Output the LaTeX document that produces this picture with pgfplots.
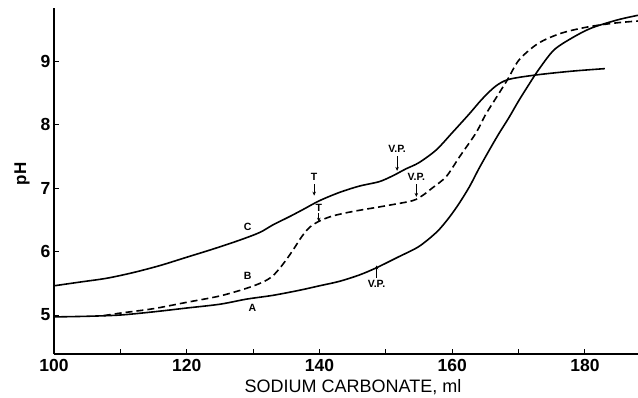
\documentclass[border=0pt]{standalone}
\usepackage{fontspec}
\setmainfont{Liberation Sans}
\usepackage{pgfplots}
\pgfplotsset{compat=1.18}
\usetikzlibrary{arrows.meta}

\pgfplotstableread{
x y
100 4.97
105 4.98
110 5.00
115 5.05
120 5.11
125 5.17
129 5.25
133 5.31
137 5.39
140 5.46
143 5.53
146 5.63
148.5 5.74
152 5.92
155 6.08
157.7 6.31
159.5 6.53
161 6.75
162.6 7.02
164 7.30
165.5 7.58
167 7.85
168.5 8.10
170 8.37
171.5 8.62
173 8.86
175.3 9.17
178 9.36
181 9.52
185 9.65
188 9.72
}\curveA

\pgfplotstableread{
x y
107.5 4.99
110 5.03
115 5.10
120 5.20
125 5.30
129 5.42
131.5 5.52
133 5.62
134.5 5.80
136 6.02
137.3 6.23
138.5 6.38
140 6.48
142 6.56
145 6.63
150 6.72
154 6.80
155.5 6.88
157 7.00
159.1 7.18
161.1 7.49
163.6 7.87
165 8.15
166.5 8.40
168.3 8.70
170.1 9.02
173 9.28
176.5 9.44
180.6 9.54
184.7 9.60
188 9.63
}\curveB

\pgfplotstableread{
x y
100 5.46
104 5.52
108 5.58
112 5.67
116 5.78
120 5.91
124 6.04
128 6.18
131 6.30
133 6.42
135.5 6.55
137.5 6.66
140 6.80
143 6.93
146 7.03
149 7.10
151 7.19
153 7.30
155 7.40
157.6 7.60
160 7.87
162.6 8.17
164.5 8.40
166.5 8.60
168.5 8.71
172.6 8.78
178 8.84
183 8.88
}\curveC

\begin{document}
\begin{tikzpicture}
\begin{axis}[
  scale only axis, width=584pt, height=346pt,
  xmin=100, xmax=188, ymin=4.386, ymax=9.835,
  axis x line=bottom, axis y line=left,
  axis line style={-, line width=1.3pt},
  xtick={100,120,...,180}, minor xtick={110,130,150,170},
  ytick={5,6,7,8,9},
  tick align=inside, major tick length=5pt, minor tick length=5pt,
  every tick/.style={line width=1pt, black},
  /pgf/number format/assume math mode=true,
  ticklabel style={font=\fontsize{17.5}{19}\selectfont\bfseries},
  xticklabel style={yshift=-2pt},
  xlabel={SODIUM CARBONATE, ml},
  ylabel={pH},
  every axis x label/.style={at={(axis description cs:0.5,0)}, anchor=base, yshift=-38pt, xshift=7pt, font=\fontsize{18}{20}\selectfont},
  every axis y label/.style={at={([xshift=-32pt,yshift=7pt]axis description cs:0,0.5)}, rotate=90, anchor=center, font=\fontsize{17}{19}\selectfont\bfseries},
  clip=false,
]
\addplot[black, line width=1.6pt, smooth] table[x=x,y=y] {\curveA};
\addplot[black, line width=1.6pt, smooth, dash pattern=on 7pt off 4pt] table[x=x,y=y] {\curveB};
\addplot[black, line width=1.6pt, smooth] table[x=x,y=y] {\curveC};

\coordinate (SW) at (rel axis cs:0,0);
\coordinate (NE) at (rel axis cs:1,1);

\begin{scope}[every node/.style={font=\fontsize{10.5}{12}\selectfont\bfseries, inner sep=0pt}]
\node at (axis cs:129.2,6.39) {C};
\node at (axis cs:129.2,5.61) {B};
\node at (axis cs:129.9,5.11) {A};
\node at (axis cs:139.2,7.17) {T};
\draw[line width=1pt, -{Stealth[length=4pt,width=3.5pt]}] (axis cs:139.2,7.06) -- (axis cs:139.2,6.88);
\node at (axis cs:139.9,6.68) {T};
\draw[line width=1pt, -{Stealth[length=4pt,width=3.5pt]}] (axis cs:139.9,6.60) -- (axis cs:139.9,6.47);
\node at (axis cs:151.7,7.61) {V.P.};
\draw[line width=1pt, -{Stealth[length=4pt,width=3.5pt]}] (axis cs:151.7,7.50) -- (axis cs:151.7,7.27);
\node at (axis cs:154.6,7.17) {V.P.};
\draw[line width=1pt, -{Stealth[length=4pt,width=3.5pt]}] (axis cs:154.6,7.06) -- (axis cs:154.6,6.86);
\node at (axis cs:148.6,5.49) {V.P.};
\draw[line width=1pt, -{Stealth[length=4pt,width=3.5pt]}] (axis cs:148.6,5.59) -- (axis cs:148.6,5.78);
\end{scope}
\end{axis}
\pgfresetboundingbox
\path[use as bounding box] ([shift={(-54pt,-43pt)}]SW) rectangle ([shift={(0pt,8pt)}]NE);
\end{tikzpicture}
\end{document}
